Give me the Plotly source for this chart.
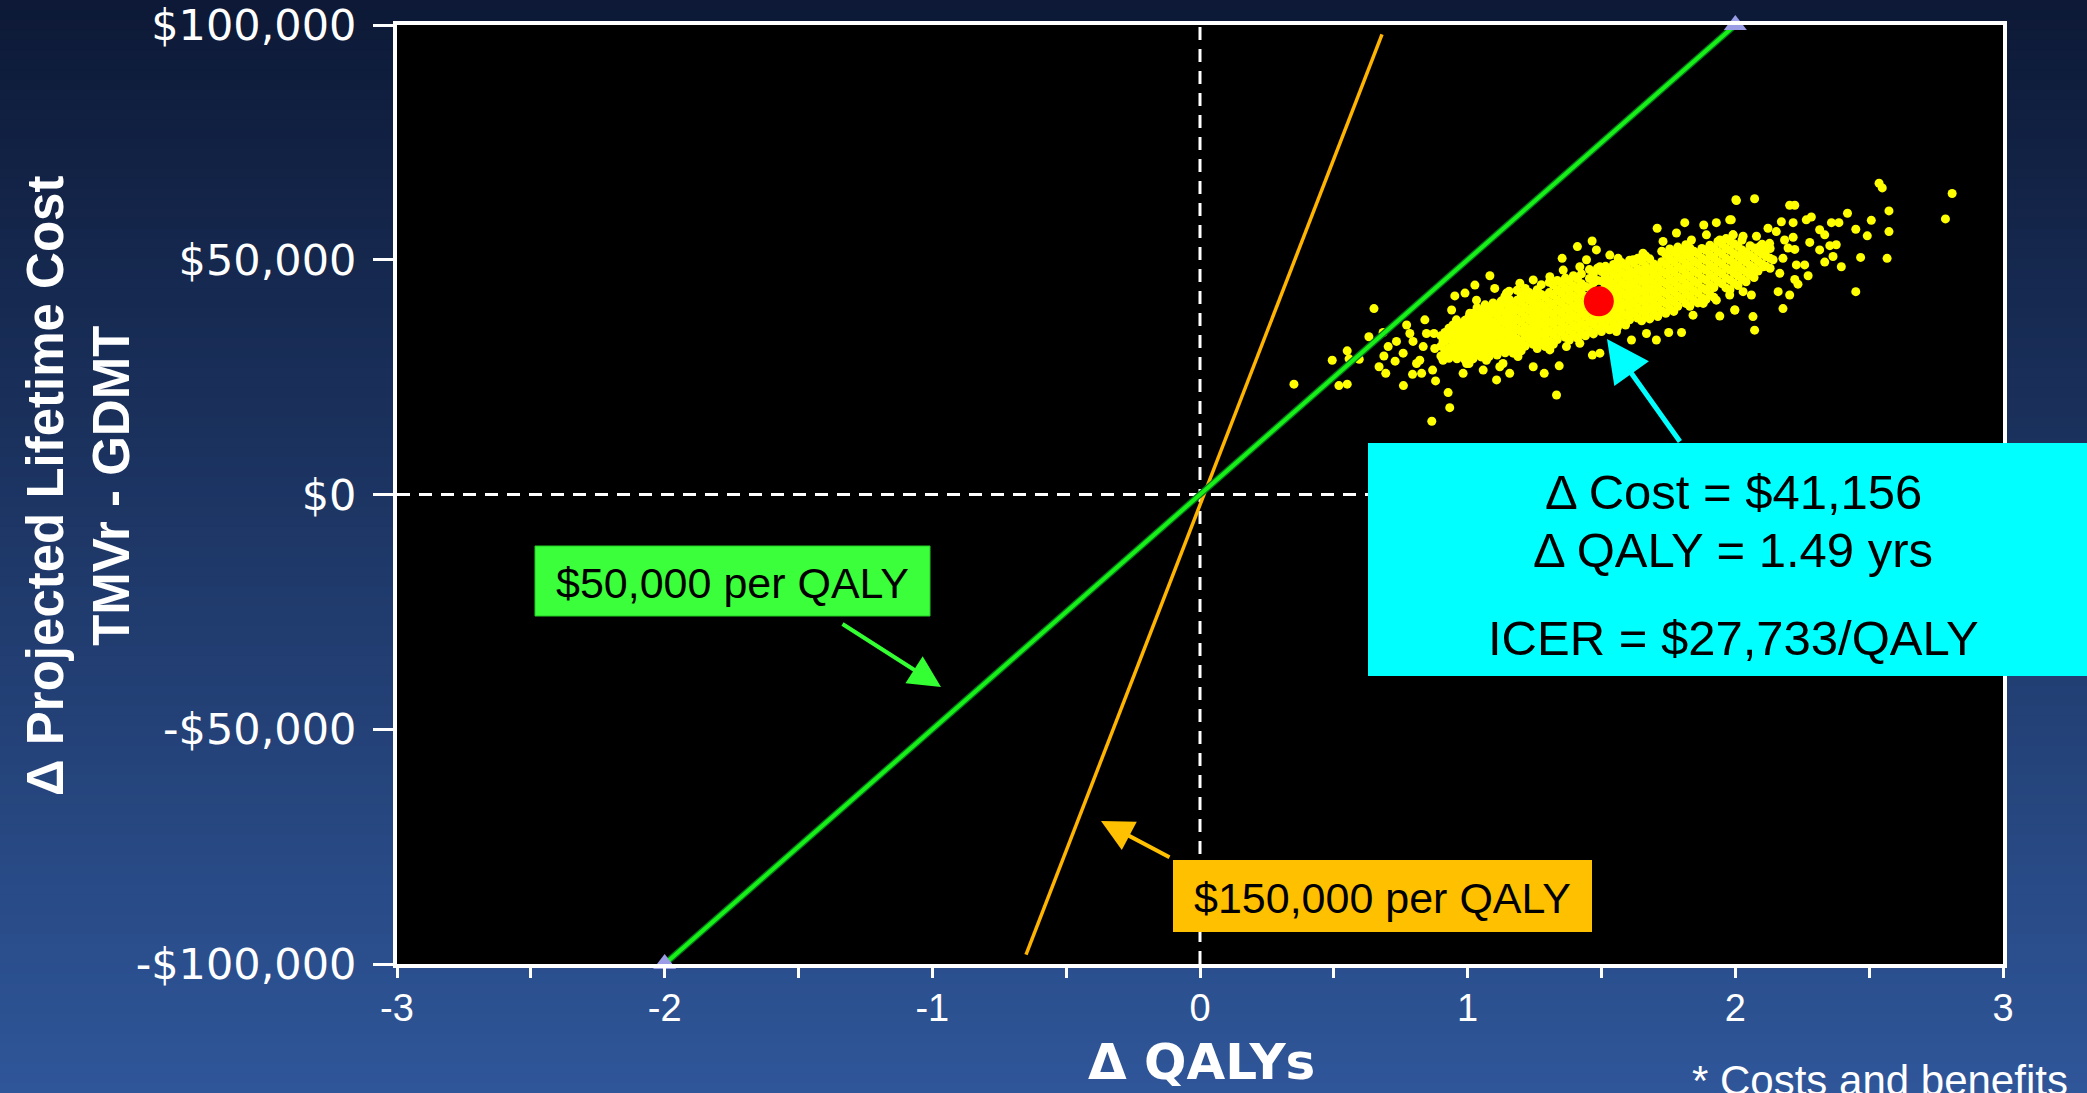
import plotly.graph_objects as go

# ------------------------------------------------------------------ data
x_tickvals = [-3, -2.5, -2, -1.5, -1, -0.5, 0, 0.5, 1, 1.5, 2, 2.5, 3]
x_ticktext = ["-3", "", "-2", "", "-1", "", "0", "", "1", "", "2", "", "3"]
y_tickvals = [100000, 50000, 0, -50000, -100000]
y_ticktext = ["$100,000", "$50,000", "$0", "-$50,000", "-$100,000"]

# willingness-to-pay threshold lines (delta QALY, delta cost)
wtp50_qaly = [-2, 2]
wtp50_cost = [-100000, 100000]
wtp150_qaly = [-0.65, 0.68]
wtp150_cost = [-98000, 98000]

# base-case (mean) result
mean_qaly = [1.49]
mean_cost = [41156]

# probabilistic sensitivity analysis: scattered simulations (QALY, cost in $ thousands)
psa_outliers = [
    (0.351, 23.5), (0.650, 39.6), (0.494, 28.6), (0.550, 30.6), (0.557, 28.9), (0.595, 28.8),
    (0.519, 23.2), (0.550, 23.5), (0.631, 33.6), (0.684, 34.5), (0.669, 27.2), (0.694, 25.8),
    (0.687, 29.5), (0.729, 28.4), (0.703, 31.5), (0.734, 32.6), (0.772, 36.1), (0.784, 34.3),
    (0.759, 30.1), (0.760, 23.2), (0.794, 25.6), (0.828, 25.8), (0.840, 37.2), (0.846, 34.3),
    (0.834, 31.5), (0.809, 27.9), (0.874, 34.3), (0.877, 31.1), (0.869, 26.5), (0.880, 24.2),
    (0.908, 28.6), (0.927, 21.7), (0.933, 18.5), (0.866, 15.6), (0.940, 39.3), (0.952, 42.3),
    (0.990, 42.9), (1.027, 44.6), (1.083, 46.6), (1.101, 43.9), (1.033, 41.4), (0.958, 37.2),
    (0.933, 34.3), (0.971, 32.9), (0.958, 30.1), (0.996, 27.9), (0.983, 25.8), (1.021, 35.7),
    (1.008, 38.6), (1.058, 39.3), (1.070, 35.7), (1.033, 31.5), (1.070, 28.6), (1.058, 26.5),
    (1.108, 24.4), (1.120, 27.2), (1.133, 31.5), (1.120, 34.3), (1.133, 37.2), (1.120, 40.0),
    (1.139, 42.2), (0.908, 32.6), (0.821, 28.6), (0.796, 32.6),
    (1.410, 52.8), (1.465, 54.0), (1.353, 50.3), (1.481, 52.1), (1.531, 51.0), (1.562, 50.3),
    (1.618, 50.0), (1.655, 51.4), (1.708, 56.7), (1.811, 57.9), (1.882, 57.4), (1.929, 57.9),
    (1.979, 58.5), (2.002, 62.8), (1.780, 55.7), (1.730, 53.9), (1.836, 54.2), (1.892, 55.3),
    (1.942, 54.2), (1.992, 55.3), (1.332, 21.2), (1.342, 27.4), (1.286, 25.8), (1.245, 27.2),
    (1.157, 25.8), (1.132, 27.9), (1.188, 29.4), (1.195, 32.6), (1.466, 29.7), (1.494, 30.1),
    (1.799, 34.5), (1.751, 34.5), (1.942, 38.0), (1.998, 39.3), (1.979, 42.5), (1.929, 41.4),
    (1.880, 40.7), (1.842, 38.2), (1.705, 32.9), (1.668, 34.3), (1.612, 32.9), (1.556, 34.7),
    (1.419, 32.2), (1.369, 31.5), (1.307, 30.8), (1.257, 32.2), (1.195, 45.0), (1.245, 45.7),
    (1.307, 46.4), (1.357, 47.8), (1.419, 48.5), (1.444, 50.0), (1.494, 48.5), (1.145, 42.9),
    (2.004, 62.6), (2.072, 63.0), (2.203, 61.6), (2.222, 61.6), (2.537, 66.3), (2.549, 65.3),
    (2.810, 64.1), (2.785, 58.7), (2.574, 60.4), (2.419, 59.9), (2.508, 58.4), (2.574, 56.0),
    (2.567, 50.3), (2.493, 55.1), (2.450, 56.5), (2.468, 50.5), (2.450, 43.2), (2.396, 48.5),
    (2.365, 50.7), (2.334, 49.5), (2.377, 53.2), (2.359, 57.9), (2.387, 57.9), (2.284, 59.1),
    (2.265, 58.5), (2.216, 57.9), (2.172, 58.1), (2.122, 56.7), (2.153, 56.0), (2.315, 56.4),
    (2.334, 55.3), (2.278, 53.7), (2.315, 52.1), (2.353, 53.0), (2.216, 54.8), (2.222, 52.2),
    (2.228, 48.9), (2.259, 48.9), (2.272, 46.6), (2.234, 44.8), (2.222, 45.8), (2.203, 42.5),
    (2.178, 39.6), (2.160, 43.2), (2.166, 47.1), (2.066, 37.9), (2.072, 35.0), (1.998, 39.3),
    (2.060, 42.5), (2.029, 43.2), (1.985, 58.5), (2.178, 50.3), (2.197, 52.5), (2.141, 50.0),
    (2.104, 48.5), (2.079, 55.0), (2.029, 55.0), (1.991, 55.3), (2.091, 52.8), (2.041, 50.7),
    (2.004, 48.5), (2.054, 47.1), (2.110, 51.4), (2.128, 53.5), (2.184, 54.2),
]

# dense core of the simulation cloud: QALY column -> costs ($ thousands)
psa_core = {
    0.90: [29.5, 31.6, 33.8],
    0.93: [29.0, 31.1, 33.2, 35.4],
    0.96: [28.9, 30.8, 32.9, 35.0, 36.8],
    0.99: [28.7, 30.9, 32.8, 34.9, 37.1],
    1.02: [28.9, 30.7, 32.9, 35.0, 36.8, 38.6],
    1.05: [29.3, 31.4, 33.4, 35.2, 37.4, 39.1],
    1.08: [29.4, 31.5, 33.6, 35.6, 37.5, 39.6],
    1.11: [29.7, 31.8, 33.9, 36.0, 38.1, 40.2],
    1.14: [30.2, 32.3, 34.3, 36.4, 38.6, 40.7],
    1.17: [30.1, 32.1, 34.2, 36.3, 38.3, 40.4],
    1.20: [30.6, 32.6, 34.7, 36.7, 38.8, 40.9, 42.5],
    1.23: [33.0, 35.1, 37.2, 39.3, 41.4, 43.0],
    1.26: [31.1, 33.2, 35.3, 37.3, 39.4, 41.5, 43.6],
    1.29: [31.5, 33.6, 35.7, 37.8, 39.9, 42.0],
    1.32: [32.0, 34.1, 36.2, 38.3, 40.4, 42.5, 44.6],
    1.35: [34.5, 36.6, 38.7, 40.8, 42.9, 45.0],
    1.38: [32.9, 35.0, 37.1, 39.2, 41.3, 43.4, 45.5],
    1.41: [33.3, 35.4, 37.5, 39.6, 41.7, 43.8, 46.0],
    1.44: [33.8, 35.9, 38.0, 40.1, 42.2, 44.3],
    1.47: [34.2, 36.3, 38.4, 43.0, 45.1, 47.0],
    1.50: [34.7, 36.8, 38.9, 43.4, 45.5, 47.5],
    1.53: [35.1, 37.2, 39.3, 41.4, 43.5, 45.6, 47.8],
    1.56: [35.6, 37.7, 39.8, 41.9, 44.0, 46.1, 48.3],
    1.59: [36.1, 38.2, 40.3, 42.4, 44.5, 46.6, 48.8],
    1.62: [38.6, 40.7, 42.8, 44.9, 47.0, 49.3],
    1.65: [37.0, 39.1, 41.2, 43.3, 45.4, 47.5, 49.7],
    1.68: [37.4, 39.5, 41.6, 43.7, 45.8, 47.9, 50.2],
    1.71: [37.9, 40.0, 42.1, 44.2, 46.3, 48.4],
    1.74: [38.6, 40.7, 42.8, 44.9, 47.0, 49.1, 51.1],
    1.77: [39.0, 41.1, 43.2, 45.3, 47.4, 49.5, 51.6],
    1.80: [41.7, 43.8, 45.9, 48.0, 50.1, 52.0],
    1.83: [40.1, 42.2, 44.3, 46.4, 48.5, 50.6, 52.5],
    1.86: [40.8, 42.9, 45.0, 47.1, 49.2, 51.3],
    1.89: [41.5, 43.6, 45.7, 47.8, 49.9, 52.0],
    1.92: [42.0, 44.1, 46.2, 48.3, 50.4, 52.5],
    1.95: [44.9, 47.0, 49.1, 51.2, 53.3],
    1.98: [43.6, 45.7, 47.8, 49.9, 52.0, 54.0],
    2.01: [44.5, 46.6, 48.7, 50.8, 52.9],
    2.04: [45.3, 47.4, 49.5, 51.6],
    2.07: [46.2, 48.3, 50.4, 52.5],
    2.10: [49.1, 51.2, 53.3],
    2.13: [48.2, 50.3, 52.4],
}

# in-between columns of the dense core: QALY column -> costs ($ thousands)
psa_core_mid = {
    0.915: [30.4, 32.6, 34.5],
    0.945: [29.8, 32.0, 34.2, 36.1],
    0.975: [29.7, 31.9, 33.9, 36.0],
    1.005: [27.9, 29.9, 31.8, 34.0, 36.0, 37.9],
    1.035: [30.1, 32.2, 34.1, 36.2, 38.0, 39.8],
    1.065: [30.3, 32.4, 34.5, 36.4, 38.5, 40.4],
    1.095: [30.6, 32.6, 34.7, 36.7, 38.8, 40.8],
    1.125: [30.9, 32.9, 35.0, 37.1, 39.2, 41.2],
    1.155: [31.2, 33.3, 35.3, 37.4, 39.5, 41.6, 43.3],
    1.185: [31.1, 33.1, 35.2, 37.3, 39.4, 41.4, 43.5],
    1.215: [31.6, 33.7, 35.7, 37.8, 39.9, 41.9, 43.9],
    1.245: [32.0, 34.1, 36.2, 38.3, 40.4, 42.4],
    1.275: [32.2, 34.3, 36.4, 38.5, 40.5, 42.6, 44.7],
    1.305: [32.6, 34.7, 36.8, 38.9, 40.9, 43.0, 45.2],
    1.335: [33.0, 35.1, 37.2, 39.3, 41.4, 43.5, 45.6],
    1.365: [33.5, 35.6, 37.7, 39.8, 41.9, 44.0, 46.1],
    1.395: [33.9, 36.0, 38.1, 40.2, 42.3, 44.4, 46.6],
    1.425: [34.4, 36.5, 38.6, 40.7, 42.8, 44.9, 47.0],
    1.455: [34.8, 36.9, 39.0, 44.0, 46.0, 47.9],
    1.485: [35.3, 37.4, 45.6, 48.2],
    1.515: [35.8, 37.9, 40.0, 44.4, 46.5, 48.6],
    1.545: [36.3, 38.4, 40.5, 42.6, 44.7, 46.9, 49.0],
    1.575: [36.7, 38.8, 40.9, 43.0, 45.1, 47.3, 49.4],
    1.605: [37.2, 39.3, 41.4, 43.5, 45.6, 47.7, 49.9],
    1.635: [37.6, 39.7, 41.8, 43.9, 46.0, 48.1, 50.3],
    1.665: [38.1, 40.2, 42.3, 44.4, 46.5, 48.6, 50.8],
    1.695: [38.6, 40.7, 42.8, 44.9, 47.0, 49.1],
    1.725: [39.1, 41.2, 43.3, 45.4, 47.5, 49.6, 51.8],
    1.755: [39.6, 41.7, 43.8, 45.9, 48.0, 50.1, 52.3],
    1.785: [40.1, 42.2, 44.3, 46.4, 48.5, 50.6, 52.7],
    1.815: [40.7, 42.8, 44.9, 47.0, 49.1, 51.2, 53.2],
    1.845: [41.3, 43.4, 45.5, 47.6, 49.7, 51.8],
    1.875: [41.9, 44.0, 46.1, 48.2, 50.3, 52.4],
    1.905: [42.6, 44.7, 46.8, 48.9, 51.0, 53.1],
    1.935: [45.4, 47.5, 49.6, 51.7, 53.9],
    1.965: [44.0, 46.1, 48.2, 50.3, 52.4, 54.5],
    1.995: [45.0, 47.1, 49.2, 51.3, 53.4],
    2.025: [45.8, 47.9, 50.0, 52.1, 54.2],
    2.055: [46.7, 48.8, 50.9, 53.0],
    2.085: [47.6, 49.7, 51.8],
    2.115: [48.6, 50.7, 52.8],
}

# ------------------------------------------------------------------ layout helpers
W, H = 2087, 1093
L, R, T, B = 397, 2003, 25, 964


def px(xp):
    return (xp - L) / (R - L)


def py(yp):
    return (B - yp) / (B - T)


cloud_x = [q for q, _ in psa_outliers]
cloud_y = [c * 1000 for _, c in psa_outliers]
for cols in (psa_core, psa_core_mid):
    for q, costs in cols.items():
        for c in costs:
            cloud_x.append(q)
            cloud_y.append(c * 1000)

fig = go.Figure()

# PSA cloud
fig.add_trace(go.Scatter(x=cloud_x, y=cloud_y, mode="markers",
                         marker=dict(color="#ffff00", size=9, line=dict(width=0)),
                         hoverinfo="skip"))
# $150,000 per QALY line
fig.add_trace(go.Scatter(x=wtp150_qaly, y=wtp150_cost, mode="lines",
                         line=dict(color="#ffb400", width=3.5), hoverinfo="skip"))
# $50,000 per QALY line
fig.add_trace(go.Scatter(x=wtp50_qaly, y=wtp50_cost, mode="lines",
                         line=dict(color="#007a1a", width=6.5), hoverinfo="skip"))
fig.add_trace(go.Scatter(x=wtp50_qaly, y=wtp50_cost, mode="lines",
                         line=dict(color="#18f018", width=4), hoverinfo="skip"))
# mean result
fig.add_trace(go.Scatter(x=mean_qaly, y=mean_cost, mode="markers",
                         marker=dict(color="#ff0000", size=30, line=dict(width=0)),
                         hoverinfo="skip"))
# end markers of the $50,000 line
fig.add_trace(go.Scatter(x=wtp50_qaly, y=wtp50_cost, mode="markers", cliponaxis=False,
                         marker=dict(symbol="triangle-up", size=20, color="#9a9de6",
                                     line=dict(width=0)),
                         hoverinfo="skip"))

# ------------------------------------------------------------------ shapes
shapes = []
top_rgb = (13, 25, 54)
bot_rgb = (47, 86, 153)
n_bands = 110
for i in range(n_bands):
    t = (i + 0.5) / n_bands
    col = tuple(round(a + (b - a) * t) for a, b in zip(top_rgb, bot_rgb))
    y0 = i * H / n_bands
    y1 = (i + 1) * H / n_bands + 1
    shapes.append(dict(type="rect", xref="paper", yref="paper", layer="below",
                       x0=px(-5), x1=px(W + 5), y0=py(y1), y1=py(y0),
                       fillcolor="rgb(%d,%d,%d)" % col, line=dict(width=0)))
shapes.append(dict(type="rect", xref="paper", yref="paper", layer="below",
                   x0=0, x1=1, y0=0, y1=1, fillcolor="black", line=dict(width=0)))
# dashed zero lines
shapes.append(dict(type="line", xref="x", yref="y", layer="below", x0=-3, x1=3, y0=0, y1=0,
                   line=dict(color="white", width=3, dash="13px,9px")))
shapes.append(dict(type="line", xref="x", yref="y", layer="below", x0=0, x1=0,
                   y0=-100000, y1=100000,
                   line=dict(color="white", width=3, dash="13px,9px")))
# label boxes
shapes.append(dict(type="rect", xref="paper", yref="paper", layer="above",
                   x0=px(535), x1=px(930), y0=py(616), y1=py(546),
                   fillcolor="#3aff3a", line=dict(color="#22cc22", width=1)))
shapes.append(dict(type="rect", xref="paper", yref="paper", layer="above",
                   x0=px(1173), x1=px(1592), y0=py(932), y1=py(860),
                   fillcolor="#ffc000", line=dict(width=0)))
shapes.append(dict(type="rect", xref="paper", yref="paper", layer="above",
                   x0=px(1368), x1=px(W + 5), y0=py(676), y1=py(443),
                   fillcolor="#00ffff", line=dict(width=0)))

# ------------------------------------------------------------------ annotations
ann = []
ann.append(dict(xref="paper", yref="paper", x=px(78), y=py(486), textangle=-90,
                text="<b>Δ Projected Lifetime Cost<br>TMVr - GDMT</b>", showarrow=False,
                xanchor="center", yanchor="middle", align="center",
                font=dict(family="Liberation Sans, Arial, sans-serif", size=51, color="white")))
ann.append(dict(xref="paper", yref="paper", x=px(1201), y=py(1062),
                text="<b>Δ QALYs</b>", showarrow=False, xanchor="center", yanchor="middle",
                font=dict(family="DejaVu Sans, sans-serif", size=50, color="white")))
ann.append(dict(xref="paper", yref="paper", x=px(732), y=py(583),
                text="$50,000 per QALY", showarrow=False, xanchor="center", yanchor="middle",
                font=dict(family="Liberation Sans, Arial, sans-serif", size=43, color="black")))
ann.append(dict(xref="paper", yref="paper", x=px(1382), y=py(898),
                text="$150,000 per QALY", showarrow=False, xanchor="center", yanchor="middle",
                font=dict(family="Liberation Sans, Arial, sans-serif", size=43, color="black")))
for txt, yc in [("Δ Cost = $41,156", 492), ("Δ QALY = 1.49 yrs", 550),
                ("ICER = $27,733/QALY", 638)]:
    ann.append(dict(xref="paper", yref="paper", x=px(1733), y=py(yc), text=txt,
                    showarrow=False, xanchor="center", yanchor="middle",
                    font=dict(family="Liberation Sans, Arial, sans-serif", size=49,
                              color="black")))
ann.append(dict(xref="paper", yref="paper", x=px(1690), y=py(1055),
                text="* Costs and benefits", showarrow=False, xanchor="left", yanchor="top",
                font=dict(family="Liberation Sans, Arial, sans-serif", size=42, color="white")))
# arrows
for tip, tail, col, wd, sz in [((941, 687), (841, 623), "#33ff33", 4, 1.6),
                               ((1101, 821), (1171, 858), "#ffc000", 4, 1.6),
                               ((1607, 339), (1681, 443), "#00ffff", 5, 1.7)]:
    ann.append(dict(xref="paper", yref="paper", x=px(tip[0]), y=py(tip[1]), text="",
                    showarrow=True, ax=tail[0] - tip[0], ay=tail[1] - tip[1],
                    arrowcolor=col, arrowwidth=wd, arrowhead=2, arrowsize=sz, standoff=0))

fig.update_layout(
    width=W, height=H, autosize=False,
    margin=dict(l=L, r=W - R, t=T, b=H - B, pad=0, autoexpand=False),
    paper_bgcolor="rgb(30,56,105)", plot_bgcolor="black",
    showlegend=False, shapes=shapes, annotations=ann,
    xaxis=dict(range=[-3, 3], tickmode="array", tickvals=x_tickvals, ticktext=x_ticktext,
               automargin=False,
               showgrid=False, zeroline=False, showline=True, linecolor="white", linewidth=4,
               mirror=True, ticks="outside", ticklen=10, tickwidth=3, tickcolor="white",
               ticklabelstandoff=-3,
               tickfont=dict(family="Liberation Sans, Arial, sans-serif", size=38, color="white")),
    yaxis=dict(range=[-100000, 100000], tickmode="array", tickvals=y_tickvals,
               ticktext=y_ticktext, automargin=False, showgrid=False, zeroline=False,
               showline=True,
               linecolor="white", linewidth=4, mirror=True, ticks="outside", ticklen=20,
               tickwidth=3, tickcolor="white", ticklabelstandoff=8,
               tickfont=dict(family="DejaVu Sans, sans-serif", size=43, color="white")),
)

fig.write_html("out.html")
